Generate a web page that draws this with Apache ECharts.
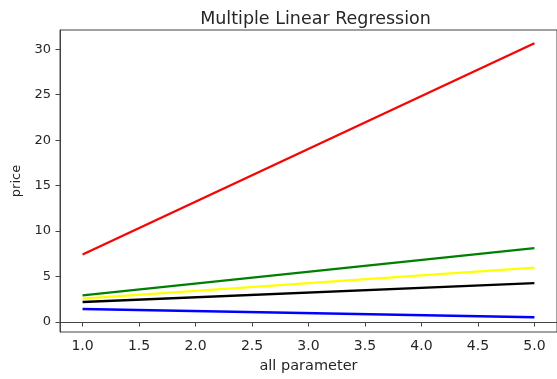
<!DOCTYPE html>
<html>
<head>
<meta charset="utf-8">
<script src="https://cdn.jsdelivr.net/npm/echarts@6/dist/echarts.min.js"></script>
<style>html,body{margin:0;padding:0;background:#fff;}#c{width:557px;height:379px;}</style>
</head>
<body>
<div id="c"></div>
<script>
var xValues = [1.0, 5.0];
var redValues = [7.43, 30.67];
var greenValues = [2.93, 8.12];
var yellowValues = [2.57, 5.97];
var blackValues = [2.2, 4.28];
var blueValues = [1.43, 0.52];
var xTicks = [1.0, 1.5, 2.0, 2.5, 3.0, 3.5, 4.0, 4.5, 5.0];
var yTicks = [0, 5, 10, 15, 20, 25, 30];

function pairs(vals) { return xValues.map(function (x, i) { return [x, vals[i]]; }); }
function line(name, color, vals) {
  return { name: name, type: 'line', data: pairs(vals), showSymbol: false, symbol: 'none',
    lineStyle: { color: color, width: 2.3 }, itemStyle: { color: color }, animation: false };
}
var font = 'DejaVu Sans';
var chart = echarts.init(document.getElementById('c'), null, { renderer: 'canvas' });
chart.setOption({
  backgroundColor: '#fff',
  animation: false,
  title: { text: 'Multiple Linear Regression', left: 310.5, top: 5, textAlign: 'center',
    textStyle: { fontFamily: font, fontSize: 17.5, fontWeight: 'normal', color: '#262626' } },
  grid: { left: 60, top: 30, width: 501.5, height: 302.7, show: true, borderColor: '#444', borderWidth: 1, backgroundColor: 'transparent' },
  xAxis: {
    type: 'value', min: 0.8, max: 5.2, name: 'all parameter', nameLocation: 'middle', nameGap: 27,
    nameTextStyle: { fontFamily: font, fontSize: 14.5, color: '#262626' },
    splitLine: { show: false },
    axisLine: { show: true, lineStyle: { color: '#444' } },
    axisTick: { show: true, length: 4.5, lineStyle: { color: '#444' }, customValues: xTicks },
    axisLabel: { customValues: xTicks, margin: 7, fontFamily: font, fontSize: 14, color: '#262626',
      formatter: function (v) { return v.toFixed(1); } }
  },
  yAxis: {
    type: 'value', min: -1.1, max: 32.12, name: 'price', nameLocation: 'middle', nameGap: 35,
    nameTextStyle: { fontFamily: font, fontSize: 13, color: '#262626' },
    splitLine: { show: false },
    axisLine: { show: true, lineStyle: { color: '#444' } },
    axisTick: { show: true, length: 4.5, lineStyle: { color: '#444' }, customValues: yTicks },
    axisLabel: { customValues: yTicks, margin: 9, fontFamily: font, fontSize: 13, color: '#262626' }
  },
  series: [
    line('red', '#ff0000', redValues),
    line('green', '#008000', greenValues),
    line('yellow', '#ffff00', yellowValues),
    line('black', '#000000', blackValues),
    line('blue', '#0000ff', blueValues)
  ]
});
</script>
</body>
</html>
